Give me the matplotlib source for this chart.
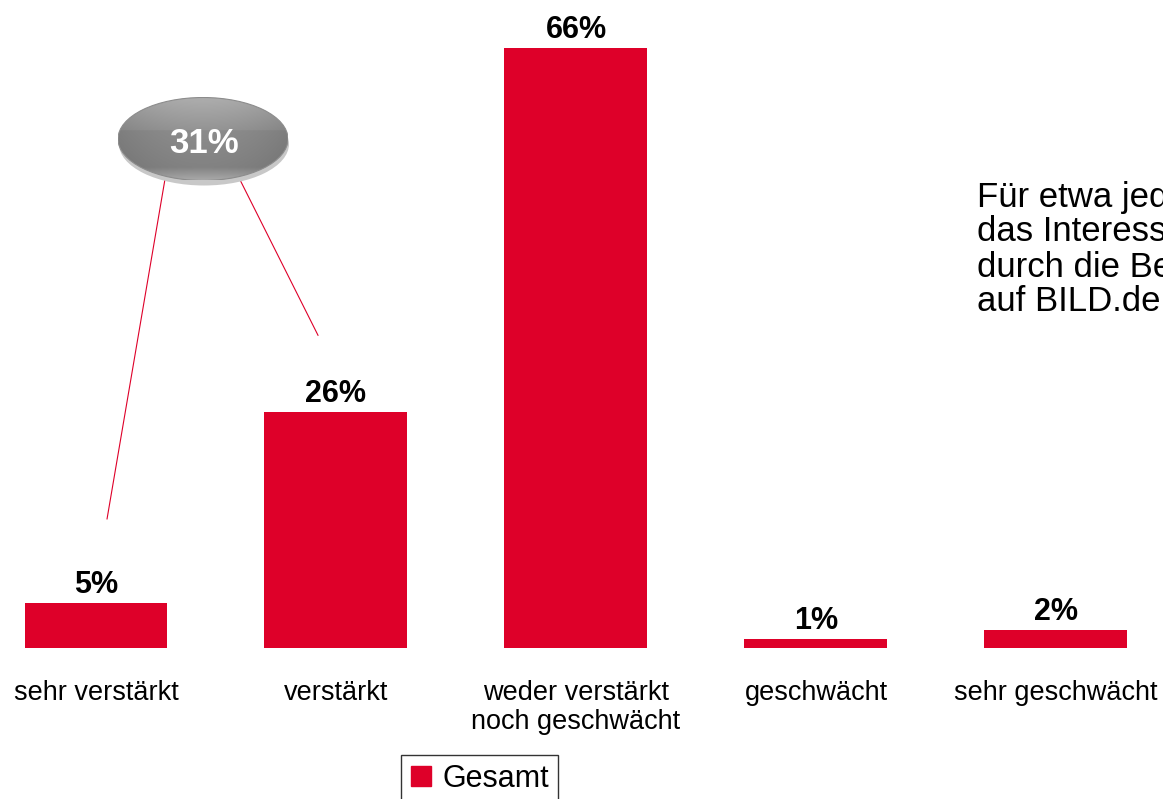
import numpy as np
import matplotlib.pyplot as plt
from matplotlib.patches import Ellipse
from matplotlib.lines import Line2D

categories = ["sehr verstärkt", "verstärkt", "weder verstärkt\nnoch geschwächt",
              "geschwächt", "sehr geschwächt"]
values = [5, 26, 66, 1, 2]
value_labels = ["5%", "26%", "66%", "1%", "2%"]
bubble_label = "31%"
note_lines = ["Für etwa jeden Dritten", "das Interesse verstärkt",
              "durch die Berichterstattung", "auf BILD.de"]
legend_label = "Gesamt"

RED = "#DE0029"
W, H = 1163, 799

plt.rcParams["font.family"] = ["Liberation Sans", "DejaVu Sans"]

fig = plt.figure(figsize=(W / 100, H / 100), dpi=100)
# bars: baseline at y=648 px, 66% at y=48 px
ax = fig.add_axes([0, 151 / H, 1, 600 / H])
ax.set_xlim(-0.4, (W - 96) / 240)
ax.set_ylim(0, 66)
ax.axis("off")

x = np.arange(len(values))
ax.bar(x, values, width=143 / 240, color=RED, zorder=2)

for xi, v, lab in zip(x, values, value_labels):
    ax.annotate(lab, (xi, v), xytext=(0, 2), textcoords="offset points",
                ha="center", va="bottom", fontsize=22, fontweight="bold",
                annotation_clip=False)

for xi, cat in zip(x, categories):
    ax.annotate(cat, (xi, 0), xytext=(0, -23), textcoords="offset points",
                ha="center", va="top", fontsize=19.5, linespacing=1.15,
                annotation_clip=False)

# connector lines from bubble to first two bars
ax.plot([0.046, 0.287], [14.2, 51.5], color=RED, lw=0.8, clip_on=False)
ax.plot([0.925, 0.6], [34.4, 51.5], color=RED, lw=0.8, clip_on=False)

# grey bubble
cx, cy = 203 / W, 1 - 139 / H
bw, bh = 170 / W, 83 / H
shadow = Ellipse((cx + 1 / W, cy - 5 / H), bw, bh, transform=fig.transFigure,
                 facecolor="#c8c8c8", edgecolor="none", zorder=1)
fig.add_artist(shadow)

rows = np.concatenate([np.linspace(0.68, 0.58, 40), np.linspace(0.55, 0.51, 45),
                       np.linspace(0.52, 0.66, 15)])
cols = np.linspace(-1, 1, 120)
shade = rows[:, None] * (1 - 0.10 * cols[None, :] ** 2)
gax = fig.add_axes([cx - bw / 2, cy - bh / 2, bw, bh])
gax.set_zorder(2)
gax.axis("off")
gax.set_xlim(0, 1)
gax.set_ylim(0, 1)
im = gax.imshow(np.dstack([shade] * 3), extent=[0, 1, 0, 1], aspect="auto",
                interpolation="bilinear", zorder=1)
clip = Ellipse((0.5, 0.5), 1, 1, transform=gax.transAxes, facecolor="none",
               edgecolor="#8c8c8c", lw=0.8)
gax.add_patch(clip)
im.set_clip_path(clip)
gax.text(0.505, 0.45, bubble_label, ha="center", va="center", color="white",
         fontsize=25, fontweight="bold", transform=gax.transAxes)

# side note (runs off the right edge, as in the original slide)
for i, line in enumerate(note_lines):
    fig.text(977 / W, 1 - (197 + 35 * i) / H, line, fontsize=25,
             ha="left", va="center")

handle = Line2D([], [], marker="s", linestyle="none", markersize=15,
                markerfacecolor=RED, markeredgecolor=RED)
leg = fig.legend([handle], [legend_label], loc="upper left",
                 bbox_to_anchor=(401 / W, 1 - 755 / H), fontsize=22,
                 frameon=True, fancybox=False, edgecolor="black",
                 handlelength=0.7, handletextpad=0.35, borderpad=0.3,
                 borderaxespad=0)
leg.get_frame().set_linewidth(1.0)

fig.savefig("out.png", dpi=100)
